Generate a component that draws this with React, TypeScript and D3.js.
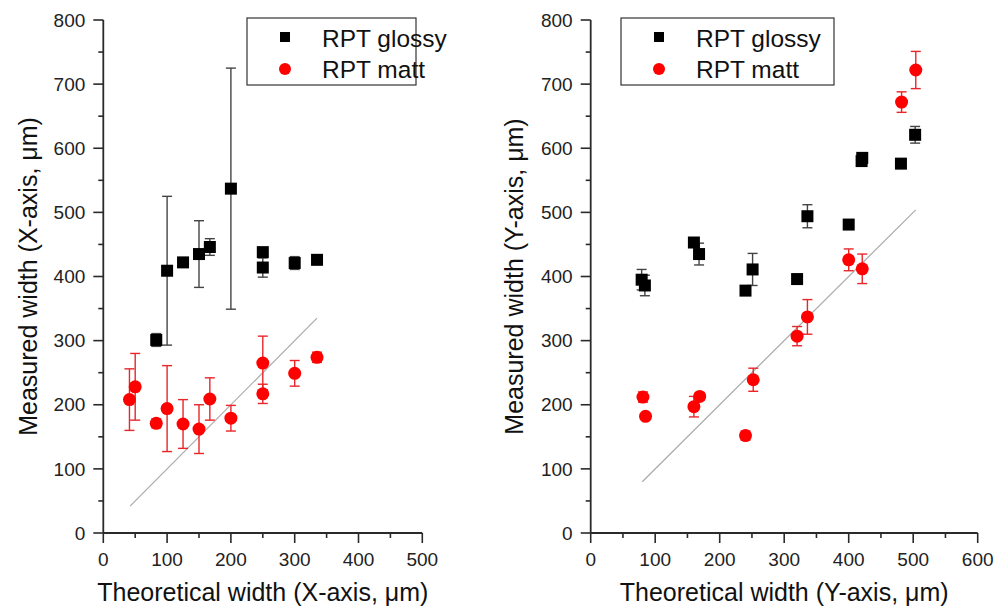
import React from "react";
import * as d3 from "d3";

// ---- Data ----
// Left panel: X-axis
const leftGlossyX = [83, 100, 125, 150, 167, 200, 250, 250, 300, 335];
const leftGlossyY = [301, 409, 422, 435, 446, 537, 438, 414, 421, 426];
const leftGlossyErr = [10, 116, 4, 52, 13, 188, 5, 15, 10, 5];

const leftMattX = [41, 50, 83, 100, 125, 150, 167, 200, 250, 250, 300, 335];
const leftMattY = [208, 228, 171, 194, 170, 162, 209, 179, 265, 217, 249, 274];
const leftMattErr = [48, 52, 7, 67, 38, 38, 33, 20, 42, 15, 20, 8];

const leftLineX = [42, 335];

// Right panel: Y-axis
const rightGlossyX = [79, 84, 160, 168, 240, 251, 320, 336, 400, 420, 421, 481, 503];
const rightGlossyY = [395, 386, 453, 435, 378, 411, 396, 494, 481, 580, 585, 576, 621];
const rightGlossyErr = [16, 16, 5, 17, 0, 25, 0, 18, 0, 6, 6, 0, 13];

const rightMattX = [81, 85, 160, 169, 240, 252, 320, 336, 400, 421, 482, 504];
const rightMattY = [212, 182, 197, 213, 152, 239, 307, 337, 426, 412, 672, 722];
const rightMattErr = [8, 0, 16, 6, 7, 18, 15, 27, 17, 23, 16, 29];

const rightLineX = [80, 504];

const leftXTicks = [0, 100, 200, 300, 400, 500];
const rightXTicks = [0, 100, 200, 300, 400, 500, 600];
const yTicks = [0, 100, 200, 300, 400, 500, 600, 700, 800];

const seriesNames = ["RPT glossy", "RPT matt"];

const FONT = "'Liberation Sans', Arial, sans-serif";
const AXIS = "#2a2a2a";

type PanelProps = {
  x0: number;
  x1: number;
  xMax: number;
  xTicks: number[];
  gx: number[]; gy: number[]; ge: number[];
  mx: number[]; my: number[]; me: number[];
  lineX: number[];
  xTitle: string;
  yTitle: string;
  yTitleX: number;
  legendX: number;
  legendW: number;
};

function Panel(p: PanelProps) {
  const yTop = 20, yBot = 533;
  const x = d3.scaleLinear().domain([0, p.xMax]).range([p.x0, p.x1]);
  const y = d3.scaleLinear().domain([0, 800]).range([yBot, yTop]);
  const minorX = d3.range(50, p.xMax, 100);
  const minorY = d3.range(50, 800, 100);
  const cap = 5;
  const sq = 12;
  const r = 6.5;

  const errBars = (xs: number[], ys: number[], es: number[], color: string) =>
    xs.map((xv, i) =>
      es[i] > 0 ? (
        <g key={i} stroke={color} strokeWidth={1.4}>
          <line x1={x(xv)} x2={x(xv)} y1={y(ys[i] - es[i])} y2={y(ys[i] + es[i])} />
          <line x1={x(xv) - cap} x2={x(xv) + cap} y1={y(ys[i] - es[i])} y2={y(ys[i] - es[i])} />
          <line x1={x(xv) - cap} x2={x(xv) + cap} y1={y(ys[i] + es[i])} y2={y(ys[i] + es[i])} />
        </g>
      ) : null
    );

  return (
    <g>
      {/* reference y=x line */}
      <line
        x1={x(p.lineX[0])} y1={y(p.lineX[0])}
        x2={x(p.lineX[1])} y2={y(p.lineX[1])}
        stroke="#aaa" strokeWidth={1.2}
      />
      {/* error bars */}
      {errBars(p.gx, p.gy, p.ge, "#444")}
      {errBars(p.mx, p.my, p.me, "#e8262a")}
      {/* markers */}
      {p.gx.map((xv, i) => (
        <rect key={"g" + i} x={x(xv) - sq / 2} y={y(p.gy[i]) - sq / 2} width={sq} height={sq} fill="#000" />
      ))}
      {p.mx.map((xv, i) => (
        <circle key={"m" + i} cx={x(xv)} cy={y(p.my[i])} r={r} fill="#ff0000" />
      ))}
      {/* axes */}
      <line x1={p.x0} x2={p.x0} y1={yTop} y2={yBot} stroke={AXIS} strokeWidth={1.8} />
      <line x1={p.x0} x2={p.x1} y1={yBot} y2={yBot} stroke={AXIS} strokeWidth={1.8} />
      {yTicks.map((t) => (
        <g key={"yt" + t}>
          <line x1={p.x0 - 10} x2={p.x0} y1={y(t)} y2={y(t)} stroke={AXIS} strokeWidth={1.6} />
          <text x={p.x0 - 18} y={y(t)} dy="0.35em" textAnchor="end" fontSize={19} fontFamily={FONT} fill="#222">
            {t}
          </text>
        </g>
      ))}
      {minorY.map((t) => (
        <line key={"ym" + t} x1={p.x0 - 5} x2={p.x0} y1={y(t)} y2={y(t)} stroke={AXIS} strokeWidth={1.6} />
      ))}
      {p.xTicks.map((t) => (
        <g key={"xt" + t}>
          <line x1={x(t)} x2={x(t)} y1={yBot} y2={yBot + 10} stroke={AXIS} strokeWidth={1.6} />
          <text x={x(t)} y={yBot + 33} textAnchor="middle" fontSize={19} fontFamily={FONT} fill="#222">
            {t}
          </text>
        </g>
      ))}
      {minorX.map((t) => (
        <line key={"xm" + t} x1={x(t)} x2={x(t)} y1={yBot} y2={yBot + 5} stroke={AXIS} strokeWidth={1.6} />
      ))}
      {/* titles */}
      <text x={(p.x0 + p.x1) / 2} y={601} textAnchor="middle" fontSize={25} fontFamily={FONT} fill="#111">
        {p.xTitle}
      </text>
      <text
        transform={`translate(${p.yTitleX},${(yTop + yBot) / 2}) rotate(-90)`}
        textAnchor="middle" fontSize={25} fontFamily={FONT} fill="#111"
      >
        {p.yTitle}
      </text>
      {/* legend */}
      <rect x={p.legendX} y={18} width={p.legendW} height={67} fill="#fff" stroke="#333" strokeWidth={1.2} />
      <rect x={p.legendX + 33} y={32} width={10} height={10} fill="#000" />
      <circle cx={p.legendX + 38} cy={69} r={6} fill="#ff0000" />
      <text x={p.legendX + 75} y={38} dy="0.35em" fontSize={24.5} fontFamily={FONT} fill="#111">
        {seriesNames[0]}
      </text>
      <text x={p.legendX + 75} y={69} dy="0.35em" fontSize={24.5} fontFamily={FONT} fill="#111">
        {seriesNames[1]}
      </text>
    </g>
  );
}

export default function App() {
  return (
    <svg
      width={1008}
      height={609}
      style={{ position: "absolute", left: 0, top: 0, background: "#fff" }}
    >
      <rect width={1008} height={609} fill="#fff" />
      <Panel
        x0={103.3} x1={422.3} xMax={500} xTicks={leftXTicks}
        gx={leftGlossyX} gy={leftGlossyY} ge={leftGlossyErr}
        mx={leftMattX} my={leftMattY} me={leftMattErr}
        lineX={leftLineX}
        xTitle="Theoretical width (X-axis, μm)"
        yTitle="Measured width (X-axis, μm)"
        yTitleX={37}
        legendX={247} legendW={169}
      />
      <Panel
        x0={590.7} x1={977.7} xMax={600} xTicks={rightXTicks}
        gx={rightGlossyX} gy={rightGlossyY} ge={rightGlossyErr}
        mx={rightMattX} my={rightMattY} me={rightMattErr}
        lineX={rightLineX}
        xTitle="Theoretical width (Y-axis, μm)"
        yTitle="Measured width (Y-axis, μm)"
        yTitleX={523}
        legendX={621} legendW={213}
      />
    </svg>
  );
}
